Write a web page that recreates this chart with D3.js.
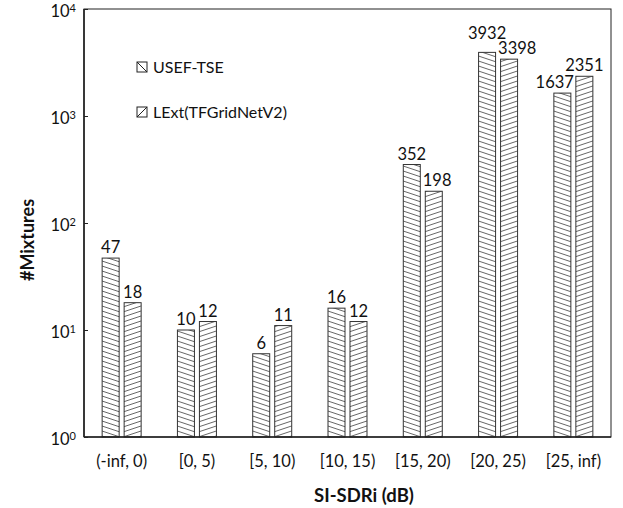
<!DOCTYPE html>
<html>
<head>
<meta charset="utf-8">
<script src="https://cdn.jsdelivr.net/npm/d3@7"></script>
<style>
  html, body { margin: 0; padding: 0; background: #fff; }
  svg { display: block; }
  text { font-family: Lato, "Open Sans", sans-serif; fill: #111; }
</style>
</head>
<body>
<svg id="chart" width="623" height="508"></svg>
<script>
const categories = ["(-inf, 0)", "[0, 5)", "[5, 10)", "[10, 15)", "[15, 20)", "[20, 25)", "[25, inf)"];
const seriesNames = ["USEF-TSE", "LExt(TFGridNetV2)"];
const usefValues = [47, 10, 6, 16, 352, 3932, 1637];
const lextValues = [18, 12, 11, 12, 198, 3398, 2351];
const yTickValues = [1, 10, 100, 1000, 10000];
const yTickExponents = ["0", "1", "2", "3", "4"];

(function () {
const svg = d3.select("#chart");
const pL = 84, pR = 611, pT = 9, pB = 437;

const x0 = d3.scaleBand().domain(categories).range([pL, pR]).paddingInner(0).paddingOuter(0);
const bw = x0.bandwidth();
const x1 = d3.scaleBand().domain(seriesNames).range([bw / 2 - 19.5, bw / 2 + 19.5]).paddingInner(0.2273).paddingOuter(0);
const y = d3.scaleLog().domain([1, 10000]).range([pB, pT]);

// patterns
const defs = svg.append("defs");
function makePattern(id, down) {
  const p = defs.append("pattern").attr("id", id).attr("patternUnits", "userSpaceOnUse")
    .attr("width", 15).attr("height", 5);
  p.append("rect").attr("width", 15).attr("height", 5).attr("fill", "#fff");
  [-5, 0, 5].forEach(o => {
    p.append("line")
      .attr("x1", 0).attr("y1", down ? o : o + 5)
      .attr("x2", 15).attr("y2", down ? o + 5 : o)
      .attr("stroke", "#555").attr("stroke-width", 0.9);
  });
}
makePattern("patDown", true);
makePattern("patUp", false);
const patterns = { "USEF-TSE": "url(#patDown)", "LExt(TFGridNetV2)": "url(#patUp)" };

const data = categories.map((c, i) => ({
  cat: c,
  vals: [
    { s: seriesNames[0], v: usefValues[i] },
    { s: seriesNames[1], v: lextValues[i] }
  ]
}));

// bars
const g = svg.append("g");
const groups = g.selectAll("g.grp").data(data).join("g")
  .attr("class", "grp")
  .attr("transform", d => `translate(${x0(d.cat)},0)`);
groups.selectAll("rect").data(d => d.vals).join("rect")
  .attr("x", d => x1(d.s))
  .attr("y", d => y(d.v))
  .attr("width", x1.bandwidth())
  .attr("height", d => y(1) - y(d.v))
  .attr("fill", d => patterns[d.s])
  .attr("stroke", "#333")
  .attr("stroke-width", 1);

// value labels with simple collision avoidance
const labelLayer = svg.append("g");
data.forEach(d => {
  const gx = x0(d.cat);
  const bars = d.vals.map(v => ({
    v: v.v,
    l: gx + x1(v.s),
    r: gx + x1(v.s) + x1.bandwidth(),
    top: y(v.v)
  }));
  const labels = bars.map(b => {
    const t = labelLayer.append("text")
      .attr("font-size", 16.5)
      .attr("text-anchor", "middle")
      .text(b.v);
    const w = t.node().getComputedTextLength();
    return { t, w, x: (b.l + b.r) / 2, base: b.top - 5 };
  });
  const [la, lb] = labels, [ba, bb] = bars;
  if (bb.top < ba.top && la.x + la.w / 2 > bb.l - 2) la.x = bb.l - 2 - la.w / 2;
  if (ba.top < bb.top && lb.x - lb.w / 2 < ba.r + 2.5) lb.x = ba.r + 2.5 + lb.w / 2;
  const hOverlap = (la.x + la.w / 2) > (lb.x - lb.w / 2);
  if (hOverlap && Math.abs(la.base - lb.base) < 15) {
    if (ba.top < bb.top) la.base = lb.base - 15; else lb.base = la.base - 15;
  }
  labels.forEach(l => l.t.attr("x", l.x).attr("y", l.base));
});

// frame
svg.append("rect").attr("x", pL).attr("y", pT).attr("width", pR - pL).attr("height", pB - pT)
  .attr("fill", "none").attr("stroke", "#222").attr("stroke-width", 1);
svg.append("line").attr("x1", pL).attr("x2", pL).attr("y1", pT).attr("y2", pB)
  .attr("stroke", "#222").attr("stroke-width", 1.6);
svg.append("line").attr("x1", pL).attr("x2", pR).attr("y1", pB).attr("y2", pB)
  .attr("stroke", "#222").attr("stroke-width", 1.6);

// y axis ticks (inside) and labels
const yAxis = d3.axisRight(y).tickValues(yTickValues).tickSize(4).tickFormat("");
const ya = svg.append("g").attr("transform", `translate(${pL},0)`).call(yAxis);
ya.select(".domain").remove();
ya.selectAll(".tick line").attr("stroke", "#222");
yTickValues.forEach((v, i) => {
  const t = svg.append("text")
    .attr("x", pL - 8)
    .attr("y", y(v) + 7.5)
    .attr("text-anchor", "end")
    .attr("font-size", 16.5);
  t.append("tspan").text("10");
  t.append("tspan").attr("font-size", 11).attr("dy", -5).text(yTickExponents[i]);
});

// x axis labels
const xAxis = d3.axisBottom(x0).tickSize(0).tickPadding(0);
const xa = svg.append("g").attr("transform", `translate(0,${pB})`).call(xAxis);
xa.select(".domain").remove();
xa.selectAll(".tick text")
  .attr("font-size", 16.5)
  .attr("font-family", "Lato, 'Open Sans', sans-serif")
  .attr("fill", "#111")
  .attr("dy", null)
  .attr("y", 30);

// axis titles
svg.append("text").attr("x", 364).attr("y", 502).attr("text-anchor", "middle")
  .attr("font-size", 18.5).attr("font-weight", "bold").text("SI-SDRi (dB)");
svg.append("text").attr("transform", "translate(34,240) rotate(-90)").attr("text-anchor", "middle")
  .attr("font-size", 18).attr("font-weight", "bold").text("#Mixtures");

// legend
const legend = svg.append("g");
seriesNames.forEach((s, i) => {
  const ly = 62 + i * 45;
  legend.append("rect").attr("x", 137).attr("y", ly).attr("width", 10).attr("height", 10)
    .attr("fill", "#fff").attr("stroke", "#222").attr("stroke-width", 1);
  legend.append("line").attr("x1", 137).attr("x2", 147)
    .attr("y1", i === 0 ? ly : ly + 10).attr("y2", i === 0 ? ly + 10 : ly)
    .attr("stroke", "#222").attr("stroke-width", 1);
  legend.append("text").attr("x", 153).attr("y", ly + 10.5).attr("font-size", 16).text(s);
});
})();
</script>
</body>
</html>
